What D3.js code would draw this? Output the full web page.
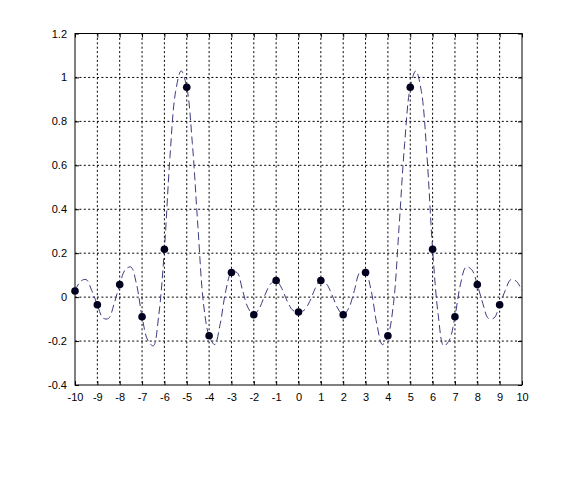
<!DOCTYPE html>
<html>
<head>
<meta charset="utf-8">
<script src="https://cdn.jsdelivr.net/npm/d3@7"></script>
<style>
  html, body { margin: 0; padding: 0; background: #fff; }
  svg { display: block; }
  text { font-family: "Liberation Sans", Arial, Helvetica, sans-serif; font-size: 11px; fill: #000; }
</style>
</head>
<body>
<svg id="chart" width="577" height="497"></svg>
<script>
// Sample points (dots)
const sampleX = [-10, -9, -8, -7, -6, -5, -4, -3, -2, -1, 0, 1, 2, 3, 4, 5, 6, 7, 8, 9];
const sampleY = [0.028, -0.035, 0.057, -0.089, 0.218, 0.955, -0.176, 0.112, -0.080, 0.076,
                 -0.068, 0.076, -0.080, 0.112, -0.176, 0.955, 0.218, -0.089, 0.057, -0.035];

// Interpolated curve (dashed), every 0.25
const curveX = [-10, -9.75, -9.5, -9.25, -9, -8.75, -8.5, -8.25, -8, -7.75, -7.5, -7.25, -7, -6.75, -6.5, -6.25,
                -6, -5.75, -5.5, -5.25, -5, -4.75, -4.5, -4.25, -4, -3.75, -3.5, -3.25, -3, -2.75, -2.5, -2.25,
                -2, -1.75, -1.5, -1.25, -1, -0.75, -0.5, -0.25, 0, 0.25, 0.5, 0.75, 1, 1.25, 1.5, 1.75,
                2, 2.25, 2.5, 2.75, 3, 3.25, 3.5, 3.75, 4, 4.25, 4.5, 4.75, 5, 5.25, 5.5, 5.75,
                6, 6.25, 6.5, 6.75, 7, 7.25, 7.5, 7.75, 8, 8.25, 8.5, 8.75, 9, 9.25, 9.5, 9.75, 10];
const curveY = [0.028, 0.072, 0.080, 0.030, -0.035, -0.095, -0.097, -0.030, 0.057, 0.125, 0.137, 0.060, -0.089, -0.195, -0.222, -0.080,
                0.218, 0.640, 0.935, 1.030, 0.955, 0.700, 0.320, -0.030, -0.176, -0.216, -0.120, 0.030, 0.112, 0.112, 0.030, -0.050,
                -0.080, -0.050, 0.010, 0.060, 0.076, 0.040, -0.020, -0.060, -0.068, -0.060, -0.020, 0.040, 0.076, 0.060, 0.010, -0.050,
                -0.080, -0.050, 0.030, 0.112, 0.112, 0.030, -0.120, -0.216, -0.176, -0.030, 0.320, 0.700, 0.955, 1.030, 0.935, 0.640,
                0.218, -0.080, -0.222, -0.195, -0.089, 0.060, 0.137, 0.125, 0.057, -0.030, -0.097, -0.095, -0.035, 0.030, 0.080, 0.072, 0.028];

const xTicks = [-10, -9, -8, -7, -6, -5, -4, -3, -2, -1, 0, 1, 2, 3, 4, 5, 6, 7, 8, 9, 10];
const yTicks = [-0.4, -0.2, 0, 0.2, 0.4, 0.6, 0.8, 1, 1.2];

(function () {
const svg = d3.select("#chart");
const pLeft = 75, pRight = 522, pTop = 33.5, pBottom = 385;

const x = d3.scaleLinear().domain([-10, 10]).range([pLeft, pRight]);
const y = d3.scaleLinear().domain([-0.4, 1.2]).range([pBottom, pTop]);

// Grid
const grid = svg.append("g");
grid.selectAll("line.gx").data(xTicks.slice(1, -1)).enter().append("line")
  .attr("x1", d => x(d)).attr("x2", d => x(d))
  .attr("y1", pTop).attr("y2", pBottom)
  .attr("stroke", "#000").attr("stroke-width", 1).attr("stroke-dasharray", "2,2.4");
grid.selectAll("line.gy").data(yTicks.slice(1, -1)).enter().append("line")
  .attr("x1", pLeft).attr("x2", pRight)
  .attr("y1", d => y(d)).attr("y2", d => y(d))
  .attr("stroke", "#000").attr("stroke-width", 1).attr("stroke-dasharray", "2,2.4");

// Axes
const fmtY = d => String(+d.toFixed(1));
const xAxisB = d3.axisBottom(x).tickValues(xTicks).tickSize(-4).tickPadding(8).tickFormat(d => String(d));
const xAxisT = d3.axisTop(x).tickValues(xTicks).tickSize(-4).tickFormat("");
const yAxisL = d3.axisLeft(y).tickValues(yTicks).tickSize(-4).tickPadding(8).tickFormat(fmtY);
const yAxisR = d3.axisRight(y).tickValues(yTicks).tickSize(-4).tickFormat("");

function style(g) {
  g.select(".domain").remove();
  g.selectAll(".tick line").attr("stroke", "#000");
  g.selectAll("text").attr("font-family", "Liberation Sans, Arial, sans-serif").attr("font-size", 11).attr("fill", "#000");
}
svg.append("g").attr("transform", `translate(0,${pBottom})`).call(xAxisB).call(style);
svg.append("g").attr("transform", `translate(0,${pTop})`).call(xAxisT).call(style);
svg.append("g").attr("transform", `translate(${pLeft},0)`).call(yAxisL).call(style);
svg.append("g").attr("transform", `translate(${pRight},0)`).call(yAxisR).call(style);

// Box
svg.append("rect").attr("x", pLeft).attr("y", pTop).attr("width", pRight - pLeft).attr("height", pBottom - pTop)
  .attr("fill", "none").attr("stroke", "#000").attr("stroke-width", 1);

// Curve
const pts = curveX.map((d, i) => [d, curveY[i]]);
const line = d3.line().x(d => x(d[0])).y(d => y(d[1])).curve(d3.curveCatmullRom.alpha(0.5));
svg.append("path").datum(pts).attr("d", line)
  .attr("fill", "none").attr("stroke", "#3c3c80").attr("stroke-width", 1)
  .attr("stroke-dasharray", "8,4");

// Dots
svg.selectAll("circle.s").data(sampleX).enter().append("circle")
  .attr("cx", d => x(d)).attr("cy", (d, i) => y(sampleY[i])).attr("r", 3.8)
  .attr("fill", "#00001e");
})();
</script>
</body>
</html>
